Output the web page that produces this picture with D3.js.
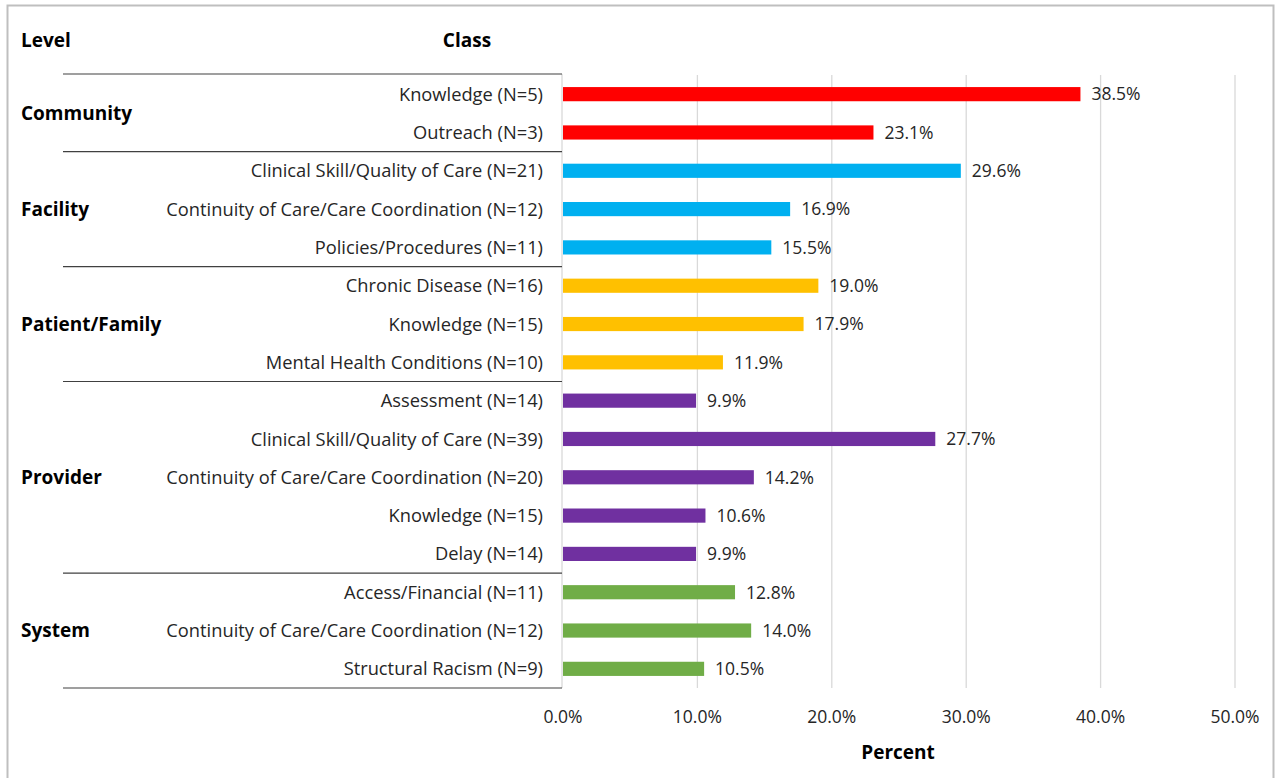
<!DOCTYPE html>
<html>
<head>
<meta charset="utf-8">
<script src="https://cdn.jsdelivr.net/npm/d3@7"></script>
<style>
  html, body { margin: 0; padding: 0; background: #fff; }
  svg { display: block; }
  text { font-family: "Open Sans", Lato, sans-serif; fill: #262626; }
</style>
</head>
<body>
<script>
// ---- data ----
const levels = ["Community", "Facility", "Patient/Family", "Provider", "System"];
const levelCounts = [2, 3, 3, 5, 3];
const levelColors = ["#FF0000", "#00B0F0", "#FFC000", "#7030A0", "#70AD47"];
const classes = [
  "Knowledge (N=5)", "Outreach (N=3)",
  "Clinical Skill/Quality of Care (N=21)", "Continuity of Care/Care Coordination (N=12)", "Policies/Procedures (N=11)",
  "Chronic Disease (N=16)", "Knowledge (N=15)", "Mental Health Conditions (N=10)",
  "Assessment (N=14)", "Clinical Skill/Quality of Care (N=39)", "Continuity of Care/Care Coordination (N=20)", "Knowledge (N=15)", "Delay (N=14)",
  "Access/Financial (N=11)", "Continuity of Care/Care Coordination (N=12)", "Structural Racism (N=9)"
];
const values = [38.5, 23.1, 29.6, 16.9, 15.5, 19.0, 17.9, 11.9, 9.9, 27.7, 14.2, 10.6, 9.9, 12.8, 14.0, 10.5];
const xTicks = [0, 10, 20, 30, 40, 50];

// build rows
const rows = [];
let idx = 0;
levels.forEach((lv, li) => {
  for (let k = 0; k < levelCounts[li]; k++) {
    rows.push({ i: idx, level: lv, li, cls: classes[idx], v: values[idx], color: levelColors[li] });
    idx++;
  }
});

const W = 1275, H = 778;
const svg = d3.select("body").append("svg").attr("width", W).attr("height", H);

// outer border
svg.append("rect").attr("x", 7.5).attr("y", 5.5).attr("width", 1266).attr("height", 780)
  .attr("fill", "none").attr("stroke", "#bfbfbf").attr("stroke-width", 2);

const x = d3.scaleLinear().domain([0, 50]).range([563, 1235]);
const y = d3.scaleBand().domain(d3.range(rows.length)).range([75, 688]).paddingInner(0.63).paddingOuter(0.315);
const yStep = y.step();
const yTop = 75, yBot = 688;

// gridlines
svg.append("g").selectAll("line").data(xTicks.slice(1)).join("line")
  .attr("x1", d => x(d)).attr("x2", d => x(d))
  .attr("y1", yTop).attr("y2", yBot)
  .attr("stroke", "#d9d9d9").attr("stroke-width", 1.3);

// vertical category axis line
svg.append("line").attr("x1", 562).attr("x2", 562).attr("y1", 74).attr("y2", yBot)
  .attr("stroke", "#d9d9d9").attr("stroke-width", 1.3);

// bars
svg.append("g").selectAll("rect").data(rows).join("rect")
  .attr("x", x(0)).attr("y", d => y(d.i))
  .attr("width", d => x(d.v) - x(0)).attr("height", y.bandwidth())
  .attr("fill", d => d.color);

// value labels
svg.append("g").selectAll("text").data(rows).join("text")
  .attr("x", d => x(d.v) + 11).attr("y", d => y(d.i) + y.bandwidth() / 2)
  .attr("dy", "0.36em").attr("font-size", 17.5)
  .text(d => d.v.toFixed(1) + "%");

// class labels
svg.append("g").selectAll("text").data(rows).join("text")
  .attr("x", 543).attr("y", d => y(d.i) + y.bandwidth() / 2)
  .attr("dy", "0.36em").attr("text-anchor", "end").attr("font-size", 18.3)
  .text(d => d.cls);

// separators & level labels
let start = 0;
const seps = [yTop - 1];
const groups = [];
levels.forEach((lv, li) => {
  const s = start, e = start + levelCounts[li];
  const y0 = yTop + s * yStep, y1 = yTop + e * yStep;
  seps.push(y1);
  groups.push({ lv, mid: (y0 + y1) / 2 });
  start = e;
});
svg.append("g").selectAll("line").data(seps).join("line")
  .attr("x1", 63).attr("x2", 562).attr("y1", d => d).attr("y2", d => d)
  .attr("stroke", "#404040").attr("stroke-width", 1.2);

svg.append("g").selectAll("text").data(groups).join("text")
  .attr("x", 21).attr("y", d => d.mid).attr("dy", "0.36em")
  .attr("font-size", 19).attr("font-weight", "bold").style("fill", "#000")
  .text(d => d.lv);

// headers
svg.append("text").attr("x", 21).attr("y", 40).attr("dy", "0.36em")
  .attr("font-size", 19).attr("font-weight", "bold").style("fill", "#000").text("Level");
svg.append("text").attr("x", 467).attr("y", 40).attr("dy", "0.36em").attr("text-anchor", "middle")
  .attr("font-size", 19).attr("font-weight", "bold").style("fill", "#000").text("Class");

// x axis tick labels
svg.append("g").selectAll("text").data(xTicks).join("text")
  .attr("x", d => x(d)).attr("y", 717).attr("dy", "0.36em").attr("text-anchor", "middle")
  .attr("font-size", 17.5)
  .text(d => d.toFixed(1) + "%");

// axis title
svg.append("text").attr("x", 898).attr("y", 752).attr("dy", "0.36em").attr("text-anchor", "middle")
  .attr("font-size", 19).attr("font-weight", "bold").style("fill", "#000").text("Percent");
</script>
</body>
</html>
